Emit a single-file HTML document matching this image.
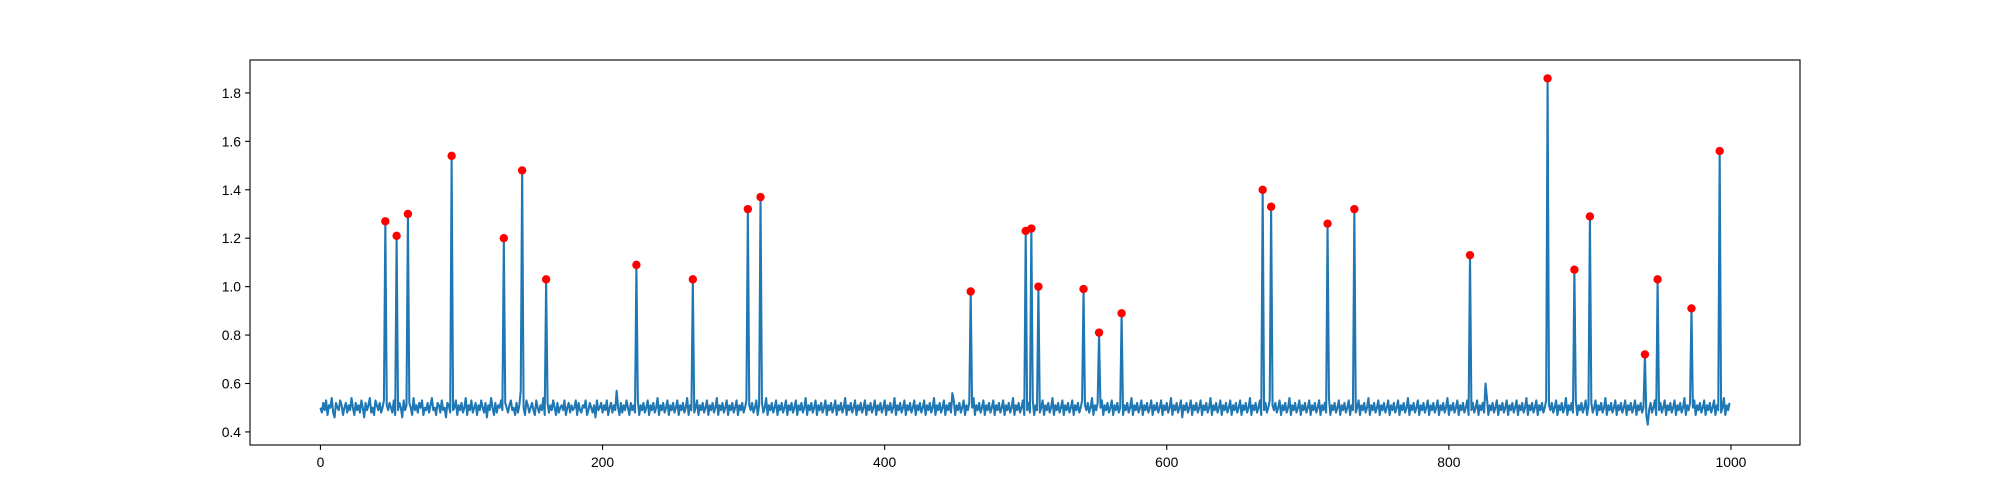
<!DOCTYPE html>
<html><head><meta charset="utf-8">
<style>
html,body{margin:0;padding:0;background:#fff;}
svg{display:block;font-family:"Liberation Sans","DejaVu Sans",sans-serif;}
</style></head>
<body>
<svg id="chart" width="2000" height="500" viewBox="0 0 2000 500" xmlns="http://www.w3.org/2000/svg">
<rect x="0" y="0" width="2000" height="500" fill="#fff"/>
<g id="plot"></g>
</svg>
<script>
const xTicks = [0, 200, 400, 600, 800, 1000];
const yTicks = [0.4, 0.6, 0.8, 1.0, 1.2, 1.4, 1.6, 1.8];
const yTickLabels = ["0.4", "0.6", "0.8", "1.0", "1.2", "1.4", "1.6", "1.8"];
const peakIdx = [46,54,62,93,130,143,160,224,264,303,312,461,500,504,509,541,552,568,668,674,714,733,815,870,889,900,939,948,972,992];
const peakVal = [1.27,1.21,1.30,1.54,1.20,1.48,1.03,1.09,1.03,1.32,1.37,0.98,1.23,1.24,1.00,0.99,0.81,0.89,1.40,1.33,1.26,1.32,1.13,1.86,1.07,1.29,0.72,1.03,0.91,1.56];
const noise = [
50,48,52,49,53,47,51,50,54,48,46,52,50,49,53,51,47,50,52,48,51,49,54,50,47,52,49,51,48,53,50,46,52,49,51,54,48,50,47,53,51,49,52,48,50,53,47,51,49,52,
50,48,53,47,51,49,52,50,46,53,49,51,48,52,50,47,54,49,51,48,52,50,53,47,50,49,52,48,51,54,49,50,47,52,51,48,53,49,50,46,52,51,48,56,49,50,53,47,51,49,
52,48,50,54,47,51,49,53,48,50,52,47,51,49,53,50,48,52,46,51,49,54,50,47,52,48,51,50,53,49,47,52,50,48,51,53,49,50,47,52,48,51,57,49,50,47,53,51,48,50,
52,49,47,53,50,48,51,49,54,47,50,52,48,51,49,53,50,47,52,48,50,51,49,53,47,50,52,48,51,49,50,53,47,52,49,48,51,50,53,47,49,52,50,48,51,46,53,49,50,52,
48,51,49,53,47,50,52,48,51,49,57,50,47,52,48,51,49,53,50,47,52,49,51,48,50,53,47,51,49,52,48,50,53,47,51,49,52,48,50,54,47,51,49,52,48,50,53,47,51,49,
52,48,50,53,47,51,49,52,48,50,54,47,51,49,52,48,50,53,47,51,49,52,48,50,53,47,51,49,52,48,50,54,47,51,49,52,48,50,53,47,51,49,52,48,50,53,47,51,49,52,
48,50,53,46,51,49,52,48,50,53,47,51,49,52,48,50,54,47,51,49,52,48,50,53,47,51,49,52,48,50,53,47,51,49,52,48,50,53,47,51,49,52,48,50,54,47,51,49,52,48,
50,53,47,51,49,52,48,50,53,47,51,49,52,48,50,53,47,51,49,52,48,50,54,47,51,49,52,48,50,53,47,51,49,52,48,50,53,47,51,49,52,48,50,53,47,51,49,52,48,50,
53,47,51,49,52,48,50,54,47,51,49,52,48,50,53,47,51,49,52,48,50,53,47,51,49,52,48,50,53,47,51,49,52,48,50,54,47,51,49,52,48,50,53,47,51,49,52,48,56,53,
47,51,49,52,48,50,53,47,51,49,52,48,50,54,47,51,49,52,48,50,53,47,51,49,52,48,50,53,47,51,49,52,48,50,53,47,51,49,52,48,50,54,47,51,49,52,48,50,53,47,
51,49,52,48,50,53,47,51,49,52,48,50,53,47,51,49,52,48,50,54,47,51,49,52,48,50,53,47,51,49,52,48,50,53,47,51,49,52,48,50,53,47,51,49,52,48,50,54,47,51,
49,52,48,50,53,47,51,49,52,48,50,53,47,51,49,52,48,50,53,47,51,49,52,48,50,54,47,51,49,52,48,50,53,47,51,49,52,48,50,53,47,51,49,52,48,50,53,47,51,49,
52,48,50,54,47,51,49,52,48,50,53,46,51,49,52,48,50,53,47,51,49,52,48,50,53,47,51,49,52,48,50,54,47,51,49,52,48,50,53,47,51,49,52,48,50,53,47,51,49,52,
48,50,53,47,51,49,52,48,50,54,47,51,49,52,48,50,53,47,51,49,52,48,50,53,47,51,49,52,48,50,53,47,51,49,52,48,50,54,47,51,49,52,48,50,53,47,51,49,52,48,
50,53,47,51,49,52,48,50,53,47,51,49,52,48,50,54,47,51,49,52,48,50,53,47,51,49,52,48,50,53,47,51,49,52,48,50,53,47,51,49,52,48,50,54,47,51,49,52,48,50,
53,47,51,49,52,48,50,53,47,51,49,52,48,50,53,47,51,49,52,48,50,54,47,51,49,52,48,50,53,47,51,49,52,48,50,53,47,51,49,52,48,50,53,47,51,49,52,48,50,54,
47,51,49,52,48,50,53,47,51,49,52,48,50,53,47,51,49,52,48,50,53,47,51,49,52,48,60,54,47,51,49,52,48,50,53,47,51,49,52,48,50,53,47,51,49,52,48,50,53,47,
51,49,52,48,50,54,47,51,49,52,48,50,53,47,51,49,52,48,50,53,47,51,49,52,48,50,53,47,51,49,52,48,50,54,47,51,49,52,48,50,53,47,51,49,52,48,50,53,47,51,
49,52,48,50,53,47,51,49,52,48,50,54,47,51,49,52,48,50,53,47,51,49,52,48,50,53,47,51,49,52,48,50,53,47,51,49,52,48,50,54,47,43,49,52,48,50,53,47,51,49,
52,48,50,53,47,51,49,52,48,50,53,47,51,49,52,48,50,54,47,51,49,52,48,50,53,47,51,49,52,48,50,53,47,51,49,52,48,50,53,47,51,49,52,48,50,54,47,51,49,52
];
const NS = "http://www.w3.org/2000/svg";
const plot = document.getElementById("plot");
const AX = {l: 250, r: 1800, t: 60, b: 445};
const xMin = -49.95, xMax = 1048.95, yMin = 0.346, yMax = 1.936;
function sx(v){ return AX.l + (v - xMin) / (xMax - xMin) * (AX.r - AX.l); }
function sy(v){ return AX.b - (v - yMin) / (yMax - yMin) * (AX.b - AX.t); }
function mk(tag, attrs){ const e = document.createElementNS(NS, tag); for (const k in attrs) e.setAttribute(k, attrs[k]); plot.appendChild(e); return e; }

const series = noise.map(v => v / 100);
peakIdx.forEach((i, k) => { series[i] = peakVal[k]; });

let d = "";
series.forEach((v, i) => { d += (i ? "L" : "M") + sx(i).toFixed(2) + " " + sy(v).toFixed(2); });
const line = mk("path", {d: d, fill: "none", stroke: "#1f77b4", "stroke-width": 2.08, "stroke-linejoin": "round"});



peakIdx.forEach((i, k) => {
  const c = mk("circle", {cx: sx(i), cy: sy(peakVal[k]), r: 4.2, fill: "red"});
  
  
});

const frame = mk("rect", {x: AX.l, y: AX.t, width: AX.r - AX.l, height: AX.b - AX.t, fill: "none", stroke: "#000", "stroke-width": 1.1});



xTicks.forEach(t => {
  const x = sx(t);
  const tk = mk("line", {x1: x, x2: x, y1: AX.b, y2: AX.b + 4.9, stroke: "#000", "stroke-width": 1.1});
  
  
  const tx = mk("text", {x: x, y: AX.b + 22, "text-anchor": "middle", "font-size": 13.9, fill: "#000"});
  tx.textContent = String(t);
  
  
});
yTicks.forEach((t, k) => {
  const y = sy(t);
  const tk = mk("line", {x1: AX.l - 4.9, x2: AX.l, y1: y, y2: y, stroke: "#000", "stroke-width": 1.1});
  
  
  const tx = mk("text", {x: AX.l - 9, y: y + 5, "text-anchor": "end", "font-size": 13.9, fill: "#000"});
  tx.textContent = yTickLabels[k];
  
  
});
</script>
</body></html>
